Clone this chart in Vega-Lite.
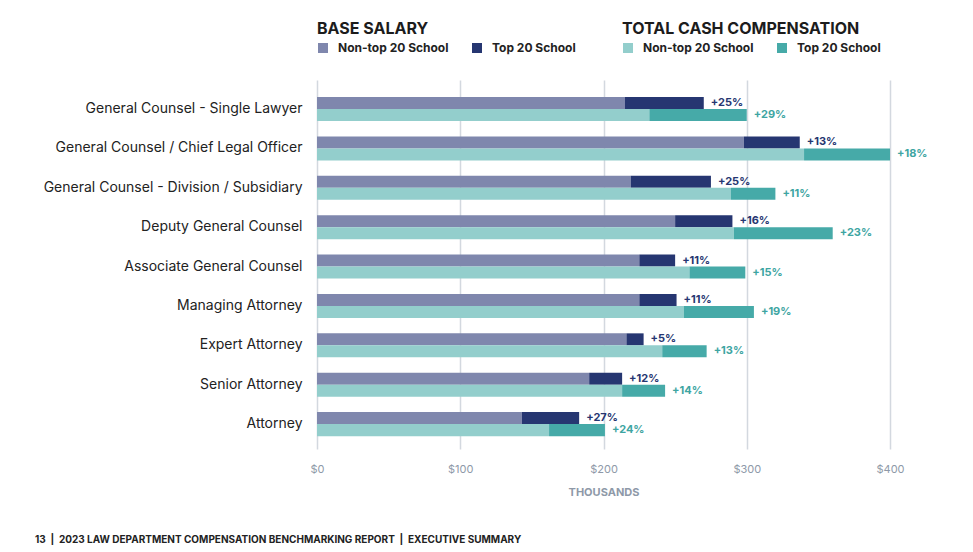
{
  "$schema": "https://vega.github.io/schema/vega-lite/v6.json",
  "autosize": {"type": "none"},
  "padding": {"left": 317, "top": 80, "right": 83, "bottom": 103},
  "width": 573,
  "height": 369,
  "background": "white",
  "config": {
    "view": {"stroke": null},
    "font": "Inter",
    "legend": {
      "direction": "horizontal",
      "orient": "none",
      "titleFont": "Inter",
      "titleFontSize": 16,
      "titleFontWeight": "bold",
      "titleColor": "#1c1c1c",
      "titlePadding": 5,
      "titleLimit": 400,
      "labelFont": "Inter",
      "labelFontSize": 12,
      "labelFontWeight": "bold",
      "labelColor": "#222222",
      "labelLimit": 300,
      "symbolType": "square",
      "symbolSize": 100,
      "symbolStrokeWidth": 0,
      "symbolOpacity": 1,
      "labelOffset": 9,
      "columnPadding": 22
    }
  },
  "title": {
    "text": "13\u00a0\u00a0|\u00a0\u00a02023 LAW DEPARTMENT COMPENSATION BENCHMARKING REPORT\u00a0\u00a0|\u00a0\u00a0EXECUTIVE SUMMARY",
    "orient": "bottom",
    "anchor": "start",
    "frame": "group",
    "font": "Inter",
    "fontSize": 10,
    "fontWeight": "bold",
    "color": "#222222",
    "dx": -282,
    "offset": 38
  },
  "data": {
    "values": [
      {"r": "General Counsel - Single Lawyer", "m": "Base", "g": "Non-top 20 School", "a": 0, "b": 215, "p": ""},
      {"r": "General Counsel - Single Lawyer", "m": "Base", "g": "Top 20 School", "a": 215, "b": 270, "p": "+25%"},
      {"r": "General Counsel - Single Lawyer", "m": "TCC", "g": "Non-top 20 School", "a": 0, "b": 232, "p": ""},
      {"r": "General Counsel - Single Lawyer", "m": "TCC", "g": "Top 20 School", "a": 232, "b": 300, "p": "+29%"},
      {"r": "General Counsel / Chief Legal Officer", "m": "Base", "g": "Non-top 20 School", "a": 0, "b": 298, "p": ""},
      {"r": "General Counsel / Chief Legal Officer", "m": "Base", "g": "Top 20 School", "a": 298, "b": 337, "p": "+13%"},
      {"r": "General Counsel / Chief Legal Officer", "m": "TCC", "g": "Non-top 20 School", "a": 0, "b": 340, "p": ""},
      {"r": "General Counsel / Chief Legal Officer", "m": "TCC", "g": "Top 20 School", "a": 340, "b": 400, "p": "+18%"},
      {"r": "General Counsel - Division / Subsidiary", "m": "Base", "g": "Non-top 20 School", "a": 0, "b": 219, "p": ""},
      {"r": "General Counsel - Division / Subsidiary", "m": "Base", "g": "Top 20 School", "a": 219, "b": 275, "p": "+25%"},
      {"r": "General Counsel - Division / Subsidiary", "m": "TCC", "g": "Non-top 20 School", "a": 0, "b": 289, "p": ""},
      {"r": "General Counsel - Division / Subsidiary", "m": "TCC", "g": "Top 20 School", "a": 289, "b": 320, "p": "+11%"},
      {"r": "Deputy General Counsel", "m": "Base", "g": "Non-top 20 School", "a": 0, "b": 250, "p": ""},
      {"r": "Deputy General Counsel", "m": "Base", "g": "Top 20 School", "a": 250, "b": 290, "p": "+16%"},
      {"r": "Deputy General Counsel", "m": "TCC", "g": "Non-top 20 School", "a": 0, "b": 291, "p": ""},
      {"r": "Deputy General Counsel", "m": "TCC", "g": "Top 20 School", "a": 291, "b": 360, "p": "+23%"},
      {"r": "Associate General Counsel", "m": "Base", "g": "Non-top 20 School", "a": 0, "b": 225, "p": ""},
      {"r": "Associate General Counsel", "m": "Base", "g": "Top 20 School", "a": 225, "b": 250, "p": "+11%"},
      {"r": "Associate General Counsel", "m": "TCC", "g": "Non-top 20 School", "a": 0, "b": 260, "p": ""},
      {"r": "Associate General Counsel", "m": "TCC", "g": "Top 20 School", "a": 260, "b": 299, "p": "+15%"},
      {"r": "Managing Attorney", "m": "Base", "g": "Non-top 20 School", "a": 0, "b": 225, "p": ""},
      {"r": "Managing Attorney", "m": "Base", "g": "Top 20 School", "a": 225, "b": 251, "p": "+11%"},
      {"r": "Managing Attorney", "m": "TCC", "g": "Non-top 20 School", "a": 0, "b": 256, "p": ""},
      {"r": "Managing Attorney", "m": "TCC", "g": "Top 20 School", "a": 256, "b": 305, "p": "+19%"},
      {"r": "Expert Attorney", "m": "Base", "g": "Non-top 20 School", "a": 0, "b": 216, "p": ""},
      {"r": "Expert Attorney", "m": "Base", "g": "Top 20 School", "a": 216, "b": 228, "p": "+5%"},
      {"r": "Expert Attorney", "m": "TCC", "g": "Non-top 20 School", "a": 0, "b": 241, "p": ""},
      {"r": "Expert Attorney", "m": "TCC", "g": "Top 20 School", "a": 241, "b": 272, "p": "+13%"},
      {"r": "Senior Attorney", "m": "Base", "g": "Non-top 20 School", "a": 0, "b": 190, "p": ""},
      {"r": "Senior Attorney", "m": "Base", "g": "Top 20 School", "a": 190, "b": 213, "p": "+12%"},
      {"r": "Senior Attorney", "m": "TCC", "g": "Non-top 20 School", "a": 0, "b": 213, "p": ""},
      {"r": "Senior Attorney", "m": "TCC", "g": "Top 20 School", "a": 213, "b": 243, "p": "+14%"},
      {"r": "Attorney", "m": "Base", "g": "Non-top 20 School", "a": 0, "b": 143, "p": ""},
      {"r": "Attorney", "m": "Base", "g": "Top 20 School", "a": 143, "b": 183, "p": "+27%"},
      {"r": "Attorney", "m": "TCC", "g": "Non-top 20 School", "a": 0, "b": 162, "p": ""},
      {"r": "Attorney", "m": "TCC", "g": "Top 20 School", "a": 162, "b": 201, "p": "+24%"}
    ]
  },
  "encoding": {
    "y": {
      "field": "r",
      "type": "nominal",
      "sort": null,
      "scale": {"paddingInner": 0.39, "paddingOuter": 0.38, "align": 0.57},
      "axis": {
        "title": null,
        "domain": false,
        "ticks": false,
        "grid": false,
        "labelFont": "Inter",
        "labelFontSize": 14,
        "labelColor": "#222222",
        "labelPadding": 15,
        "labelLimit": 320
      }
    },
    "yOffset": {
      "field": "m",
      "type": "nominal",
      "scale": {"domain": ["Base", "TCC"], "paddingInner": 0, "paddingOuter": 0}
    },
    "x": {
      "field": "a",
      "type": "quantitative",
      "scale": {"domain": [0, 400], "nice": false},
      "axis": {
        "values": [0, 100, 200, 300, 400],
        "labelExpr": "'$' + datum.value",
        "labelFlush": false,
        "grid": true,
        "gridColor": "#d3d8df",
        "gridWidth": 1.5,
        "domain": false,
        "ticks": false,
        "labelFont": "Inter",
        "labelFontSize": 11,
        "labelColor": "#8e99a8",
        "labelPadding": 14,
        "title": "THOUSANDS",
        "titleFont": "Inter",
        "titleFontSize": 11,
        "titleFontWeight": "bold",
        "titleColor": "#8e99a8",
        "titlePadding": 12
      }
    }
  },
  "layer": [
    {
      "transform": [{"filter": "datum.m === 'Base'"}],
      "mark": {"type": "bar"},
      "encoding": {
        "x2": {"field": "b"},
        "color": {
          "field": "g",
          "type": "nominal",
          "scale": {"domain": ["Non-top 20 School", "Top 20 School"], "range": ["#7f87ad", "#263671"]},
          "legend": {"title": "BASE SALARY", "legendX": 0, "legendY": -59}
        }
      }
    },
    {
      "transform": [{"filter": "datum.m === 'TCC'"}],
      "mark": {"type": "bar"},
      "encoding": {
        "x2": {"field": "b"},
        "color": {
          "field": "g",
          "type": "nominal",
          "scale": {"domain": ["Non-top 20 School", "Top 20 School"], "range": ["#93cecc", "#46aaa8"]},
          "legend": {"title": "TOTAL CASH COMPENSATION", "legendX": 305, "legendY": -59}
        }
      }
    },
    {
      "transform": [{"filter": "datum.m === 'Base' && datum.p !== ''"}],
      "mark": {"type": "text", "align": "left", "baseline": "middle", "dx": 7, "font": "Inter", "fontSize": 11, "fontWeight": "bold", "color": "#263671"},
      "encoding": {
        "x": {"field": "b", "type": "quantitative"},
        "text": {"field": "p"}
      }
    },
    {
      "transform": [{"filter": "datum.m === 'TCC' && datum.p !== ''"}],
      "mark": {"type": "text", "align": "left", "baseline": "middle", "dx": 7, "font": "Inter", "fontSize": 11, "fontWeight": "bold", "color": "#3ea5a2"},
      "encoding": {
        "x": {"field": "b", "type": "quantitative"},
        "text": {"field": "p"}
      }
    }
  ],
  "resolve": {"scale": {"color": "independent"}}
}
